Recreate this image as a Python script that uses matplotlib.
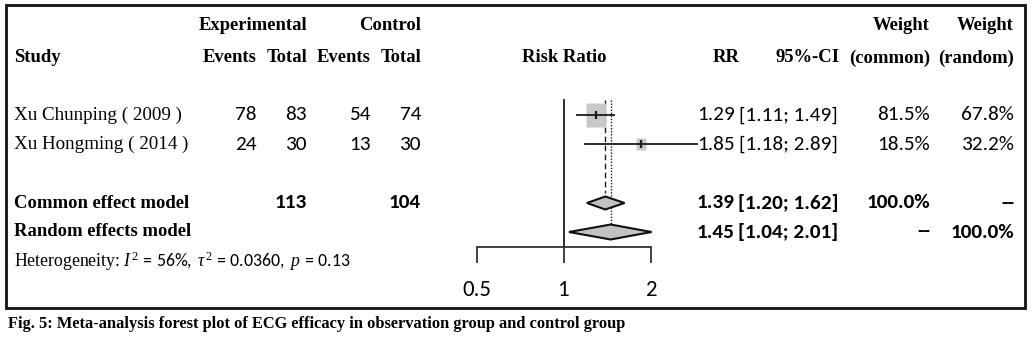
import matplotlib
matplotlib.use('Agg')
import matplotlib.pyplot as plt
from matplotlib.patches import Polygon, Rectangle
import numpy as np

# study data
studies = ['Xu Chunping ( 2009 )', 'Xu Hongming ( 2014 )']
exp_events = [78, 24]
exp_total = [83, 30]
ctl_events = [54, 13]
ctl_total = [74, 30]
rr = [1.29, 1.85]
ci_low = [1.11, 1.18]
ci_high = [1.49, 2.89]
w_common = [81.5, 18.5]
w_random = [67.8, 32.2]

# pooled estimates
pooled_names = ['Common effect model', 'Random effects model']
pooled_rr = [1.39, 1.45]
pooled_low = [1.20, 1.04]
pooled_high = [1.62, 2.01]
pooled_wc = ['100.0%', '--']
pooled_wr = ['--', '100.0%']
exp_total_sum = 113
ctl_total_sum = 104
heterogeneity = r"Heterogeneity: $I^2\mathsf{\,=\,56\%,\ }\tau^2\mathsf{\,=\,0.0360,\ }p\mathsf{\,=\,0.13}$"

xticks = [0.5, 1, 2]
xticklabels = ['0.5', '1', '2']
caption = 'Fig. 5: Meta-analysis forest plot of ECG efficacy in observation group and control group'

# layout (pixels)
W, H = 1033, 342
row_y = [115, 144]
pool_y = [203, 232]
SERIF = ['Liberation Serif', 'DejaVu Serif']
SANS = ['Carlito', 'Liberation Sans Narrow', 'DejaVu Sans']

plt.rcParams['mathtext.fontset'] = 'custom'
plt.rcParams['mathtext.rm'] = 'Liberation Serif'
plt.rcParams['mathtext.it'] = 'Liberation Serif:italic'
plt.rcParams['mathtext.sf'] = 'Carlito'

fig = plt.figure(figsize=(W / 100, H / 100), dpi=100)


def put(x, y, s, ha='left', family=SERIF, weight='normal', size=13.3, **kw):
    fig.text(x / W, 1 - y / H, s, ha=ha, va='center', family=family,
             fontweight=weight, fontsize=size, **kw)


# frame
fig.add_artist(Rectangle((6 / W, 1 - 308 / H), (1025 - 6) / W, (308 - 5) / H,
                         transform=fig.transFigure, fill=False, lw=2.0, ec='#111111'))

# headers
hb = dict(weight='bold', size=13.4)
put(307, 25, 'Experimental', ha='right', **hb)
put(421, 25, 'Control', ha='right', **hb)
put(930, 25, 'Weight', ha='right', **hb)
put(1014, 25, 'Weight', ha='right', **hb)
put(14, 58, 'Study', **hb)
put(257, 58, 'Events', ha='right', **hb)
put(307, 58, 'Total', ha='right', **hb)
put(371, 58, 'Events', ha='right', **hb)
put(421, 58, 'Total', ha='right', **hb)
put(564, 58, 'Risk Ratio', ha='center', **hb)
put(740, 58, 'RR', ha='right', **hb)
put(840, 58, '95%-CI', ha='right', **hb)
put(930, 58, '(common)', ha='right', **hb)
put(1014, 58, '(random)', ha='right', **hb)

# study rows
ns = dict(family=SANS, size=15.3)
for i, y in enumerate(row_y):
    put(14, y, studies[i], size=13.7)
    put(257, y, str(exp_events[i]), ha='right', **ns)
    put(307, y, str(exp_total[i]), ha='right', **ns)
    put(371, y, str(ctl_events[i]), ha='right', **ns)
    put(421, y, str(ctl_total[i]), ha='right', **ns)
    put(735, y, f'{rr[i]:.2f}', ha='right', **ns)
    put(838, y, f'[{ci_low[i]:.2f}; {ci_high[i]:.2f}]', ha='right', **ns)
    put(930, y, f'{w_common[i]:.1f}%', ha='right', **ns)
    put(1014, y, f'{w_random[i]:.1f}%', ha='right', **ns)

# pooled rows
nb = dict(family=SANS, size=15.3, weight='bold')
for i, y in enumerate(pool_y):
    put(14, y, pooled_names[i], weight='bold', size=13.4)
    put(735, y, f'{pooled_rr[i]:.2f}', ha='right', **nb)
    put(838, y, f'[{pooled_low[i]:.2f}; {pooled_high[i]:.2f}]', ha='right', **nb)
    put(930, y, pooled_wc[i], ha='right', **nb)
    put(1014, y, pooled_wr[i], ha='right', **nb)
put(307, pool_y[0], str(exp_total_sum), ha='right', **nb)
put(421, pool_y[0], str(ctl_total_sum), ha='right', **nb)
put(14, 261, heterogeneity, size=12.8)

# caption
put(8, 324, caption, weight='bold', size=11.8)

# forest panel
x0, x1, y_axis, y_top = 477, 651, 247, 97
ax = fig.add_axes([x0 / W, 1 - y_axis / H, (x1 - x0) / W, (y_axis - y_top) / H])
ax.set_xscale('log', base=2)
ax.set_xlim(0.5, 2)
ax.set_ylim(y_axis, y_top)
ax.patch.set_visible(False)
for s in ['top', 'right', 'left']:
    ax.spines[s].set_visible(False)
ax.spines['bottom'].set_color('#333333')
ax.spines['bottom'].set_linewidth(1.3)
ax.set_yticks([])
ax.set_xticks(xticks)
ax.set_xticklabels(xticklabels, family=SANS, fontsize=16.5)
ax.minorticks_off()
ax.tick_params(axis='x', direction='out', length=11.5, width=1.3, color='#333333', pad=12)

lc = '#1a1a1a'
ax.plot([1, 1], [y_axis, 100], color=lc, lw=1.3, clip_on=False)
ax.plot([pooled_rr[0]] * 2, [100, 193], color=lc, lw=1.0, ls=(0, (4, 2.5)), clip_on=False)
ax.plot([pooled_rr[1]] * 2, [100, 224], color=lc, lw=1.0, ls=(0, (1, 1.2)), clip_on=False)

box = [(-0.4, -0.5), (0.4, -0.5), (0.4, 0.5), (-0.4, 0.5), (-0.4, -0.5)]
for i, y in enumerate(row_y):
    side = 2.65 * np.sqrt(w_common[i]) * 0.72
    ax.plot([rr[i]], [y], marker=box, ms=side, mfc='#c8c8c8', mec='none', ls='none',
            clip_on=False, zorder=2)
    ax.plot([ci_low[i], ci_high[i]], [y, y], color=lc, lw=1.3, clip_on=False, zorder=3)
    ax.plot([rr[i]], [y], marker='|', ms=6, mew=1.6, color=lc, clip_on=False, zorder=4)

half_h = [6.5, 7.5]
for i, y in enumerate(pool_y):
    d = Polygon([(pooled_low[i], y), (pooled_rr[i], y - half_h[i]),
                 (pooled_high[i], y), (pooled_rr[i], y + half_h[i])],
                closed=True, fc='#c2c2c2', ec='#111111', lw=1.5, clip_on=False, zorder=3)
    ax.add_patch(d)

fig.savefig('out.png', dpi=100)
